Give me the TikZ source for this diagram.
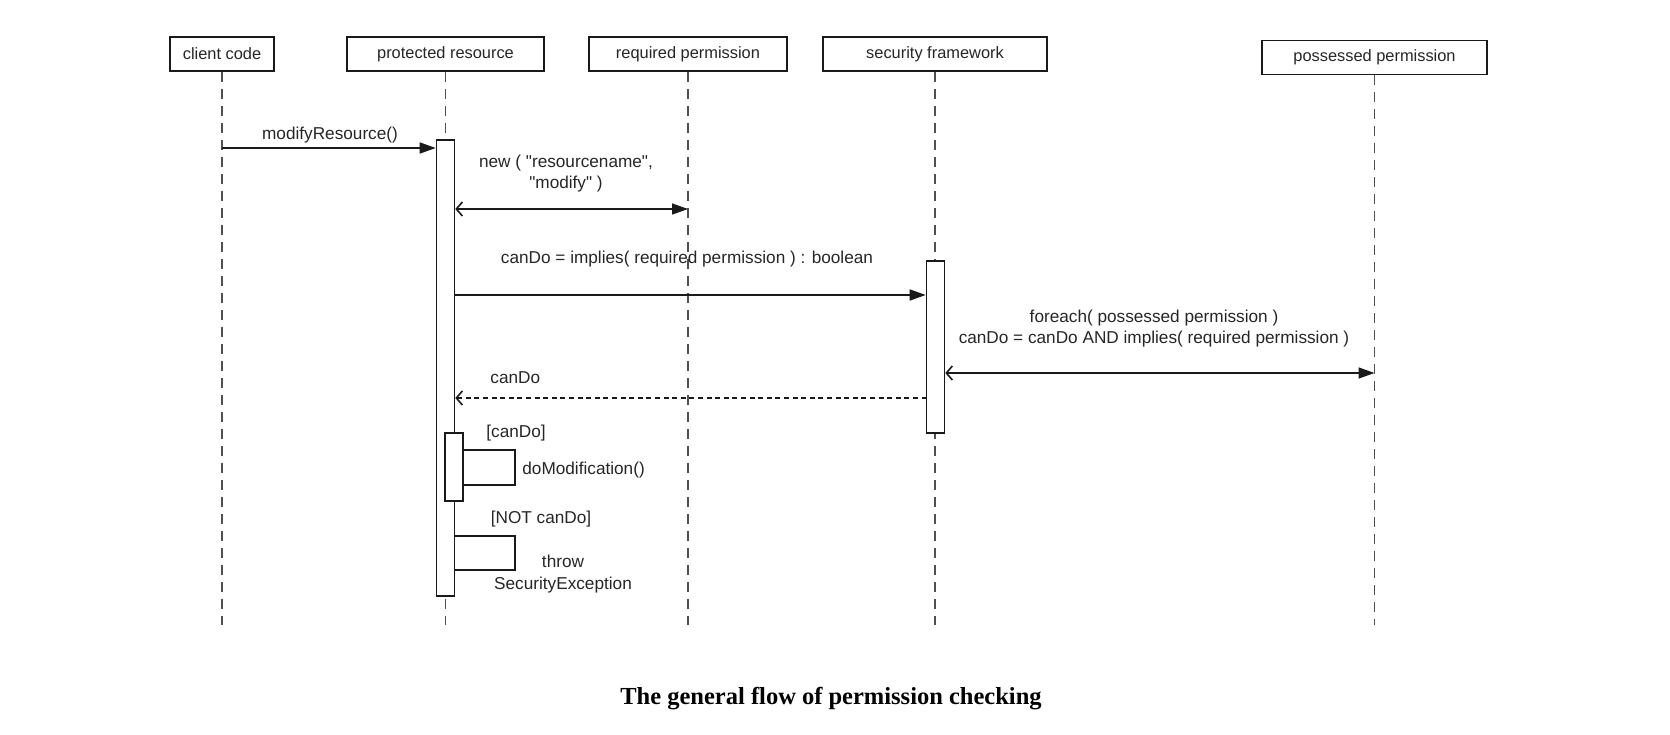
\documentclass[tikz,border=0pt]{standalone}
\usepackage{fontspec}
\setmainfont{Liberation Sans}[Ligatures=TeXOff]
\newfontfamily\capfont{Liberation Serif}
\usetikzlibrary{arrows.meta}
\definecolor{linec}{HTML}{1A1A1A}
\definecolor{lifec}{HTML}{505050}
\definecolor{txt}{HTML}{262626}
\begin{document}
\begin{tikzpicture}[x=0.5pt,y=-0.5pt,
  lbl/.style={font=\fontsize{8.6pt}{10pt}\selectfont, text=txt, inner sep=0pt},
  hdr/.style={draw=linec, line width=0.75pt, fill=white, minimum height=17pt, inner sep=0pt, font=\fontsize{8.2pt}{10pt}\selectfont, text=txt},
  life/.style={draw=lifec, line width=0.8pt, dash pattern=on 5pt off 3.5pt},
  act/.style={draw=linec, line width=0.8pt, fill=white, inner sep=0pt, minimum width=9pt},
  msg/.style={draw=linec, line width=0.8pt, -{Triangle[length=8pt,width=5.5pt]}},
  both/.style={draw=linec, line width=0.8pt, {Straight Barb[length=3pt,width=7pt]}-{Triangle[length=8pt,width=5.5pt]}},
  ret/.style={draw=linec, line width=0.8pt, dash pattern=on 2.5pt off 1.8pt, {Straight Barb[length=3pt,width=7pt]}-},
  selfc/.style={draw=linec, line width=0.8pt}
]
\path[use as bounding box] (0,0) rectangle (1670,734);

% headers
\node[hdr, minimum width=52pt]   (cc) at (222,54)    {client code};
\node[hdr, minimum width=98.5pt] (pr) at (445.5,54)  {protected resource};
\node[hdr, minimum width=99pt]   (rp) at (688,54)    {required permission};
\node[hdr, minimum width=112pt]  (sf) at (935,54)    {security framework};
\node[hdr, minimum width=112.5pt](pp) at (1374.5,57.5) {possessed permission};

% lifeline ends
\coordinate (ccE) at (222,625);
\coordinate (prE) at (445.5,625);
\coordinate (rpE) at (688,625);
\coordinate (sfE) at (935,625);
\coordinate (ppE) at (1374.5,625);
\draw[life] (cc.south) -- (ccE);
\draw[life] (pr.south) -- (prE);
\draw[life] (rp.south) -- (rpE);
\draw[life] (sf.south) -- (sfE);
\draw[life] (pp.south) -- (ppE);

% activations
\node[act, minimum height=228pt] (aP) at (445.5,368) {};
\node[act, minimum height=86pt]  (aS) at (935.5,347) {};
\node[act, minimum height=34pt]  (aN) at (454,467) {};

% message rows
\coordinate (m1) at (0,148);
\coordinate (m2) at (0,209);
\coordinate (m3) at (0,295);
\coordinate (m4) at (0,373);
\coordinate (m5) at (0,398);

% 1 modifyResource
\draw[msg] (ccE |- m1) -- (m1 -| aP.west);
\node[lbl] (l1) at (330,135) {modifyResource()};

% 2 new
\draw[both] (m2 -| aP.east) -- (m2 -| rpE);
\node[lbl, align=center, font=\fontsize{8.6pt}{10.5pt}\selectfont] (l2) at (566,174) {new ( "resourcename",\\"modify" )};

% 3 implies
\draw[msg] (m3 -| aP.east) -- (m3 -| aS.west);
\node[lbl] (l3) at (687,259) {canDo = implies( required permission ) : boolean};

% 4 foreach
\draw[both] (m4 -| aS.east) -- (m4 -| ppE);
\node[lbl, align=center, font=\fontsize{8.6pt}{10.5pt}\selectfont] (l4) at (1154,329) {foreach( possessed permission )\\canDo = canDo AND implies( required permission )};

% 5 return
\draw[ret] (m5 -| aP.east) -- (m5 -| aS.west);
\node[lbl, anchor=west] (l5) at (490,378) {canDo};

% guard canDo + self call
\node[lbl] (g1) at (516,433) {[canDo]};
\coordinate (s1a) at (0,450);
\coordinate (s1b) at (0,485);
\coordinate (sx) at (515,0);
\draw[selfc] (s1a -| aN.east) -- (s1a -| sx) -- (s1b -| sx) -- (s1b -| aN.east);
\node[lbl, anchor=west] (l6) at (522,470) {doModification()};

% guard NOT canDo + self call
\node[lbl] (g2) at (541,519) {[NOT canDo]};
\coordinate (s2a) at (0,536);
\coordinate (s2b) at (0,570);
\draw[selfc] (s2a -| aP.east) -- (s2a -| sx) -- (s2b -| sx) -- (s2b -| aP.east);
\node[lbl, align=center, font=\fontsize{8.6pt}{11pt}\selectfont] (l7) at (563,574) {throw\\SecurityException};

% caption
\node[inner sep=0pt, font=\capfont\bfseries\fontsize{12.25pt}{14pt}\selectfont] (cap) at (831,699) {The general flow of permission checking};
\end{tikzpicture}
\end{document}
